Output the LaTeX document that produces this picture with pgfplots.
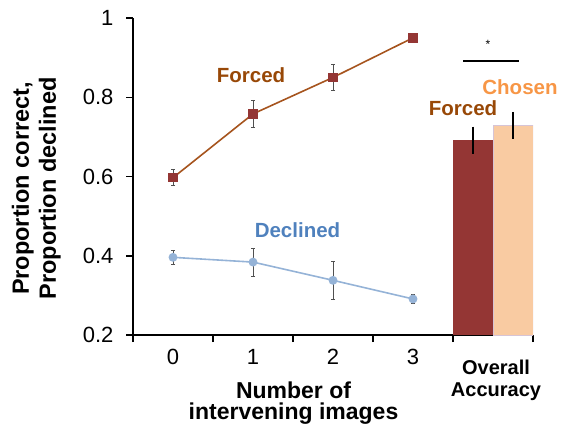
\documentclass[border=0pt]{standalone}
\usepackage{pgfplots}
\pgfplotsset{compat=1.18}
\usepackage{fontspec}
\setmainfont{Liberation Sans}
\definecolor{forcedline}{RGB}{166,84,30}
\definecolor{forcedmark}{RGB}{148,54,52}
\definecolor{forcedtxt}{RGB}{152,72,7}
\definecolor{declline}{RGB}{149,179,215}
\definecolor{decltxt}{RGB}{79,129,189}
\definecolor{chosenbar}{RGB}{249,203,162}
\definecolor{chosenedge}{RGB}{214,196,214}
\definecolor{chosentxt}{RGB}{247,150,70}
\definecolor{errgray}{RGB}{80,80,80}
\begin{document}
\begin{tikzpicture}
\useasboundingbox (0,0) rectangle (561pt,429pt);
\begin{axis}[
  at={(133pt,94pt)}, anchor=south west,
  scale only axis, width=400pt, height=317pt,
  xmin=-0.5, xmax=4.5, ymin=0.2, ymax=1,
  axis x line*=bottom, axis y line*=left,
  axis line style={line width=1.5pt, -},
  every tick/.style={line width=1.5pt, black},
  tick align=outside, major tick length=7pt,
  xtick={-0.5,0.5,1.5,2.5,3.5,4.5}, xticklabels={},
  extra x ticks={0,1,2,3}, extra x tick labels={0,1,2,3},
  extra x tick style={major tick length=0pt, tick style={draw=none},
    tick label style={yshift=-11pt}},
  ytick={0.2,0.4,0.6,0.8,1}, yticklabels={0.2,0.4,0.6,0.8,1},
  yticklabel style={xshift=-9pt},
  tick label style={font=\fontsize{22}{26}\selectfont},
  /pgf/number format/assume math mode=true,
  clip mode=individual,
]
\addplot[ybar, bar width=40pt, bar shift=0pt, fill=forcedmark, draw=none,
  error bars/.cd, y dir=both, y explicit,
  error bar style={line width=1.6pt, black}, error mark=none]
  coordinates {(3.75,0.692) +- (0,0.034)};
\addplot[ybar, bar width=40pt, bar shift=0pt, fill=chosenbar, draw=chosenedge, line width=0.6pt,
  error bars/.cd, y dir=both, y explicit,
  error bar style={line width=1.6pt, black}, error mark=none]
  coordinates {(4.25,0.729) +- (0,0.034)};
\addplot[color=forcedline, line width=1.6pt, mark=square*,
  mark options={fill=forcedmark, draw=forcedmark, mark size=4pt, solid},
  error bars/.cd, y dir=both, y explicit,
  error bar style={line width=0.7pt, errgray},
  error mark options={rotate=90, mark size=2pt, line width=0.7pt, errgray}]
  coordinates {(0,0.597) +- (0,0.020) (1,0.758) +- (0,0.033) (2,0.850) +- (0,0.032) (3,0.950) +- (0,0.004)};
\addplot[color=declline, line width=1.6pt, mark=*,
  mark options={fill=declline, draw=declline, mark size=3.6pt, solid},
  error bars/.cd, y dir=both, y explicit,
  error bar style={line width=0.7pt, errgray},
  error mark options={rotate=90, mark size=2pt, line width=0.7pt, errgray}]
  coordinates {(0,0.396) +- (0,0.017) (1,0.384) +- (0,0.035) (2,0.338) +- (0,0.048) (3,0.291) +- (0,0.012)};
\end{axis}
% text labels
\node[anchor=base, font=\bfseries\fontsize{20.5}{22}\selectfont, text=forcedtxt, inner sep=0pt] at (251pt,346pt) {Forced};
\node[anchor=base, font=\bfseries\fontsize{20.5}{22}\selectfont, text=decltxt, inner sep=0pt] at (297.5pt,192pt) {Declined};
\node[anchor=base, font=\bfseries\fontsize{20.5}{22}\selectfont, text=forcedtxt, inner sep=0pt] at (463pt,313pt) {Forced};
\node[anchor=base, font=\bfseries\fontsize{20.5}{22}\selectfont, text=chosentxt, inner sep=0pt] at (520pt,334pt) {Chosen};
\node[font=\fontsize{12}{14}\selectfont, inner sep=0pt] at (488pt,385pt) {*};
\draw[line width=1.8pt] (463pt,368.3pt) -- (519pt,368.3pt);
\node[anchor=south, align=center, font=\bfseries\fontsize{20}{22}\selectfont, inner sep=0pt] at (496pt,27.8pt) {Overall\\Accuracy};
\node[anchor=south, align=center, font=\bfseries\fontsize{23}{21.5}\selectfont, inner sep=0pt] at (293.5pt,4.2pt) {Number of\\intervening images};
\node[anchor=south, rotate=90, align=center, font=\bfseries\fontsize{23.5}{27}\selectfont, inner sep=0pt] at (61pt,240.5pt) {Proportion correct,\\Proportion declined};
\end{tikzpicture}
\end{document}
